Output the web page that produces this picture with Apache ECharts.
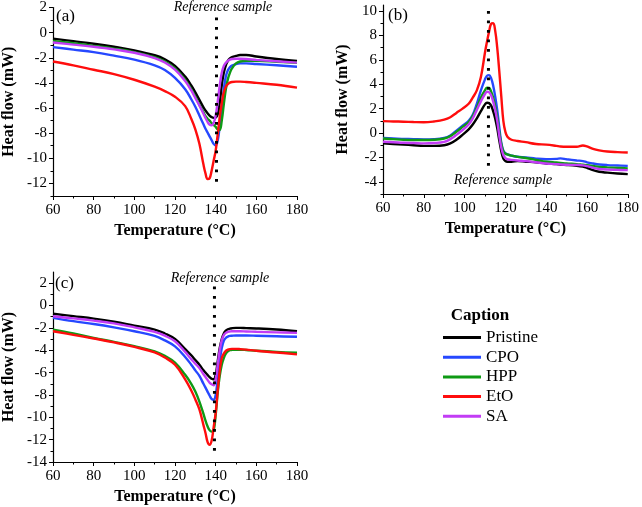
<!DOCTYPE html>
<html><head><meta charset="utf-8">
<script src="https://cdn.jsdelivr.net/npm/echarts@6/dist/echarts.min.js"></script>
<style>html,body{margin:0;padding:0;background:#fff}#c{width:642px;height:507px}</style>
</head><body><div id="c"></div>
<script>
// ---------- data ----------
const seriesNames = ['Pristine', 'CPO', 'HPP', 'EtO', 'SA'];

// panel (a) & (c) temperatures
const tempsAC = [60,70,80,90,100,110,115,120,125,128,130,132,134,135,136,137,138,139,140,141,142,143,144,145,146,147,148,150,152,155,160,170,180];
// panel (a)
const aPristine = [-0.48,-0.68,-0.88,-1.12,-1.41,-1.8,-2.12,-2.65,-3.5,-4.2,-4.75,-5.35,-5.95,-6.2,-6.42,-6.6,-6.72,-6.78,-6.75,-6.5,-5.6,-4.2,-3.2,-2.6,-2.25,-2.05,-1.95,-1.85,-1.78,-1.78,-1.9,-2.1,-2.26];
const aCPO      = [-1.15,-1.35,-1.55,-1.83,-2.15,-2.6,-2.97,-3.6,-4.5,-5.3,-5.9,-6.6,-7.3,-7.65,-7.95,-8.25,-8.55,-8.85,-8.98,-8.6,-7.4,-6.0,-4.5,-3.5,-3.0,-2.75,-2.62,-2.5,-2.45,-2.45,-2.5,-2.6,-2.71];
const aHPP      = [-0.67,-0.85,-1.05,-1.27,-1.55,-1.95,-2.3,-2.85,-3.75,-4.5,-5.1,-5.75,-6.35,-6.65,-6.85,-7.0,-7.2,-7.35,-7.5,-7.7,-7.75,-7.0,-5.7,-4.5,-3.7,-3.2,-2.85,-2.45,-2.3,-2.25,-2.25,-2.32,-2.4];
const aEtO      = [-2.3,-2.6,-2.95,-3.3,-3.75,-4.3,-4.65,-5.1,-5.85,-6.85,-7.7,-8.85,-10.5,-11.2,-11.65,-11.6,-11.0,-10.2,-9.4,-8.1,-6.7,-5.6,-4.75,-4.3,-4.1,-3.98,-3.93,-3.9,-3.9,-3.93,-4.0,-4.15,-4.38];
const aSA       = [-0.78,-0.95,-1.12,-1.33,-1.6,-2.02,-2.38,-2.95,-3.85,-4.6,-5.2,-5.8,-6.45,-6.8,-7.1,-7.32,-7.38,-7.2,-6.6,-5.5,-4.2,-3.2,-2.65,-2.4,-2.25,-2.15,-2.1,-2.08,-2.08,-2.1,-2.17,-2.28,-2.39];
// panel (c)
const cPristine = [-0.73,-0.95,-1.17,-1.45,-1.8,-2.15,-2.5,-3.0,-3.9,-4.45,-4.88,-5.3,-5.8,-6.0,-6.2,-6.4,-6.55,-6.6,-6.2,-5.0,-3.8,-3.0,-2.5,-2.25,-2.12,-2.07,-2.03,-2.0,-2.0,-2.02,-2.05,-2.15,-2.3];
const cCPO      = [-1.1,-1.4,-1.65,-1.95,-2.3,-2.72,-3.12,-3.65,-4.6,-5.3,-5.8,-6.3,-7.0,-7.35,-7.7,-8.05,-8.35,-8.43,-8.0,-6.6,-5.0,-3.8,-3.15,-2.9,-2.78,-2.72,-2.7,-2.68,-2.68,-2.68,-2.7,-2.75,-2.8];
const cHPP      = [-2.15,-2.5,-2.9,-3.25,-3.63,-4.1,-4.5,-5.1,-6.2,-7.0,-7.7,-8.6,-9.7,-10.3,-10.8,-11.15,-11.28,-11.2,-9.8,-7.8,-6.3,-5.3,-4.7,-4.3,-4.1,-4.0,-3.97,-3.95,-3.95,-3.98,-4.05,-4.15,-4.22];
const cEtO      = [-2.3,-2.62,-2.95,-3.3,-3.7,-4.2,-4.65,-5.3,-6.6,-7.6,-8.4,-9.3,-10.7,-11.4,-12.2,-12.46,-12.1,-10.9,-9.6,-7.6,-5.8,-4.7,-4.3,-4.05,-3.95,-3.9,-3.88,-3.88,-3.9,-3.95,-4.05,-4.2,-4.37];
const cSA       = [-0.96,-1.15,-1.35,-1.6,-1.95,-2.35,-2.7,-3.2,-4.15,-4.8,-5.2,-5.6,-6.15,-6.4,-6.65,-6.9,-7.05,-7.13,-6.6,-5.3,-4.0,-3.1,-2.65,-2.45,-2.35,-2.32,-2.3,-2.3,-2.3,-2.32,-2.35,-2.4,-2.45];

// panel (b)
const tempsB = [60,65,70,75,80,85,90,93,96,99,102,104,106,108,110,111,112,113,114,115,116,117,118,119,120,121,123,126,130,135,140,145,147,150,155,158,160,163,166,170,175,180];
const bPristine = [-0.85,-0.9,-0.95,-1.0,-1.05,-1.05,-1.0,-0.85,-0.55,-0.15,0.3,0.7,1.2,1.8,2.35,2.48,2.45,2.25,1.8,1.2,0.4,-0.6,-1.5,-2.1,-2.3,-2.35,-2.35,-2.3,-2.35,-2.4,-2.5,-2.55,-2.6,-2.62,-2.68,-2.75,-2.85,-3.05,-3.18,-3.25,-3.32,-3.37];
const bCPO      = [-0.4,-0.45,-0.48,-0.5,-0.52,-0.5,-0.4,-0.2,0.2,0.6,1.0,1.5,2.4,3.5,4.4,4.7,4.75,4.5,3.9,3.0,1.9,0.5,-0.8,-1.45,-1.65,-1.75,-1.85,-1.95,-2.0,-2.1,-2.15,-2.12,-2.08,-2.15,-2.25,-2.3,-2.4,-2.5,-2.58,-2.63,-2.66,-2.69];
const bHPP      = [-0.45,-0.5,-0.55,-0.57,-0.57,-0.55,-0.45,-0.25,0.1,0.5,0.9,1.4,2.1,2.9,3.5,3.72,3.7,3.4,2.9,2.2,1.3,0.1,-0.9,-1.5,-1.7,-1.75,-1.85,-1.95,-2.05,-2.2,-2.35,-2.42,-2.45,-2.5,-2.55,-2.6,-2.63,-2.7,-2.78,-2.82,-2.86,-2.9];
const bEtO      = [0.98,0.95,0.93,0.9,0.88,0.95,1.1,1.3,1.65,2.0,2.4,2.9,3.5,4.6,6.6,7.5,8.3,8.95,9.0,8.4,7.0,5.1,3.0,1.0,0.1,-0.3,-0.55,-0.65,-0.75,-0.9,-0.95,-1.05,-1.1,-1.12,-1.12,-1.02,-1.1,-1.3,-1.42,-1.52,-1.57,-1.6];
const bSA       = [-0.72,-0.75,-0.8,-0.82,-0.85,-0.82,-0.72,-0.5,-0.15,0.25,0.7,1.2,1.9,2.6,3.2,3.38,3.35,3.1,2.6,1.9,1.0,-0.2,-1.2,-1.8,-2.05,-2.15,-2.2,-2.25,-2.3,-2.4,-2.5,-2.55,-2.58,-2.6,-2.62,-2.65,-2.72,-2.85,-2.95,-3.0,-3.02,-3.04];

// reference-sample dotted lines (a, b, c)
const refTemps   = [140.4, 111.7, 139.4];
const refTops    = [1.2, 10.0, 1.7];
const refBottoms = [-12.2, -3.0, -13.3];

// axes
const yMins = [-13, -5, -14];
const yMaxs = [2, 10.5, 3];
const yMajor = [[-12,-10,-8,-6,-4,-2,0,2], [-4,-2,0,2,4,6,8,10], [-14,-12,-10,-8,-6,-4,-2,0,2]];
const yMinor = [[-13,-11,-9,-7,-5,-3,-1,1], [-5,-3,-1,1,3,5,7,9], [-13,-11,-9,-7,-5,-3,-1,1]];

// ---------- chart ----------
const colors = {Pristine:'#000000', CPO:'#2648ff', HPP:'#0e9a14', EtO:'#ff0d0d', SA:'#c23cf5'};
const serif = 'Liberation Serif';

const grids = [
  {left: 49, top: 7, width: 248, height: 189},
  {left: 383, top: 5, width: 247, height: 189},
  {left: 49, top: 272, width: 248, height: 190}
];
const nameGaps = [36, 32, 36];

const xAxes = [], yAxes = [];
grids.forEach((g, i) => {
  xAxes.push({
    gridIndex: i, type: 'value', min: 60, max: 180, interval: 20,
    name: 'Temperature (°C)', nameLocation: 'middle', nameGap: 27,
    nameTextStyle: {fontFamily: serif, fontWeight: 'bold', fontSize: 16, color: '#000'},
    axisLine: {show: true, onZero: false, lineStyle: {color: '#000', width: 1.2}},
    axisTick: {show: true, inside: false, length: 4, lineStyle: {color: '#000'}},
    minorTick: {show: true, splitNumber: 2, length: 2.5, lineStyle: {color: '#000'}},
    axisLabel: {fontFamily: serif, fontSize: 15, color: '#000', margin: 7},
    splitLine: {show: false}
  });
  yAxes.push({
    gridIndex: i, type: 'value', min: yMins[i], max: yMaxs[i], position: 'left',
    name: 'Heat flow (mW)', nameLocation: 'middle', nameGap: nameGaps[i],
    nameTextStyle: {fontFamily: serif, fontWeight: 'bold', fontSize: 16, color: '#000'},
    axisLine: {show: true, onZero: false, lineStyle: {color: '#000', width: 1.2}},
    axisTick: {show: true, inside: false, length: 4, customValues: yMajor[i], lineStyle: {color: '#000'}},
    axisLabel: {fontFamily: serif, fontSize: 15, color: '#000', margin: 6, customValues: yMajor[i]},
    splitLine: {show: false}
  });
  yAxes.push({
    gridIndex: i, type: 'value', min: yMins[i], max: yMaxs[i], position: 'left',
    axisLine: {show: false},
    axisTick: {show: true, inside: false, length: 2.5, customValues: yMinor[i], lineStyle: {color: '#000'}},
    axisLabel: {show: false},
    splitLine: {show: false}
  });
});

const panels = [
  {temps: tempsAC, vals: [aPristine, aCPO, aHPP, aEtO, aSA]},
  {temps: tempsB,  vals: [bPristine, bCPO, bHPP, bEtO, bSA]},
  {temps: tempsAC, vals: [cPristine, cCPO, cHPP, cEtO, cSA]}
];

const series = [];
panels.forEach((p, i) => {
  p.vals.forEach((v, k) => {
    const name = seriesNames[k];
    series.push({
      name, type: 'line', xAxisIndex: i, yAxisIndex: 2 * i,
      data: p.temps.map((t, j) => [t, v[j]]),
      smooth: 0.4, symbol: 'none',
      lineStyle: {color: colors[name], width: 2.4},
      itemStyle: {color: colors[name]},
      z: 3
    });
  });
  series.push({
    name: 'ref' + i, type: 'line', xAxisIndex: i, yAxisIndex: 2 * i,
    data: [[refTemps[i], refTops[i]], [refTemps[i], refBottoms[i]]],
    symbol: 'none', silent: true, z: 5,
    lineStyle: {color: '#000', width: 3, type: [2.6, 6.9], cap: 'butt'}
  });
});

const txt = (x, y, s, opt) => Object.assign({
  type: 'text', x, y,
  style: Object.assign({text: s, fill: '#000', font: '17px ' + serif, textAlign: 'left', textVerticalAlign: 'middle'}, opt || {})
});

const chart = echarts.init(document.getElementById('c'), null, {renderer: 'canvas'});
chart.setOption({
  animation: false,
  backgroundColor: '#fff',
  grid: grids,
  xAxis: xAxes,
  yAxis: yAxes,
  legend: {
    data: seriesNames, orient: 'vertical', left: 438, top: 324,
    icon: 'rect', itemWidth: 38, itemHeight: 3, itemGap: 2.7,
    textStyle: {fontFamily: serif, fontSize: 17, color: '#000', lineHeight: 17}
  },
  graphic: [
    txt(56, 17, '(a)'),
    txt(388, 16, '(b)'),
    txt(55, 284, '(c)'),
    txt(223, 7, 'Reference sample', {font: 'italic 14px ' + serif, textAlign: 'center'}),
    txt(503, 180, 'Reference sample', {font: 'italic 14px ' + serif, textAlign: 'center'}),
    txt(220, 278, 'Reference sample', {font: 'italic 14px ' + serif, textAlign: 'center'}),
    txt(480, 316, 'Caption', {font: 'bold 17px ' + serif, textAlign: 'center'})
  ],
  series
});
</script></body></html>
